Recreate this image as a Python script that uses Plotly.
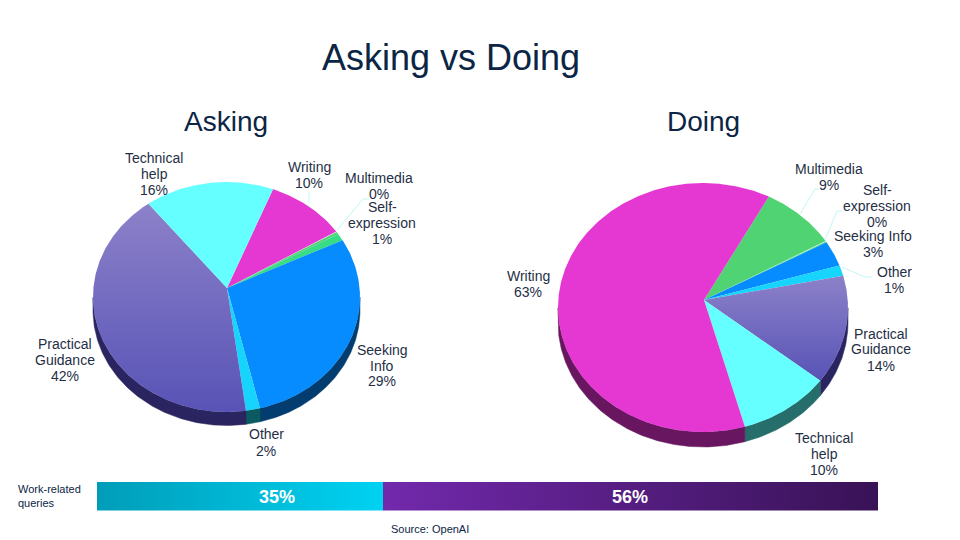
import numpy as np
import plotly.graph_objects as go

# ---- data (slice sizes estimated; labels show the rounded figure) ----
asking_names = ["Writing", "Multimedia", "Self-expression", "Seeking Info", "Other", "Practical Guidance", "Technical help"]
asking_values = [9.7, 0.4, 1, 29.2, 1.7, 42.4, 15.6]
doing_names = ["Multimedia", "Self-expression", "Seeking Info", "Other", "Practical Guidance", "Technical help", "Writing"]
doing_values = [8.6, 0.2, 3.3, 1.4, 14.2, 10.4, 62.6]
work_labels = ["35%", "56%"]

# ---- styles ----
NAVY = "#0B2545"
TEXT = "#1F2F46"
TOP = {"Writing": "#E537D2", "Multimedia": "#50D372", "Self-expression": "#38DC84", "Seeking Info": "#068CFF",
       "Other": "#16D4FB", "Practical Guidance": ("#8C81C9", "#5853B6"), "Technical help": "#66FFFF"}
WALL = {"Writing": "#681660", "Multimedia": "#245F34", "Self-expression": "#1A6038", "Seeking Info": "#033D70",
        "Other": "#0A5A60", "Practical Guidance": "#2A2560", "Technical help": "#266E6C"}

fig = go.Figure()


def pie_3d(names, values, apex, centre, rx, ry, depth, start):
    total = sum(values)
    edges = start - np.cumsum([0] + list(values)) * 360 / total
    walls, tops = [], []
    for name, a0, a1 in zip(names, edges[:-1], edges[1:]):
        t = np.radians(np.linspace(a0, a1, max(int(a0 - a1) * 2, 6)))
        x = centre[0] + rx * np.cos(t)
        y = centre[1] - ry * np.sin(t)
        front = np.sin(t) <= 0
        if front.any():
            wx, wy = x[front], y[front]
            walls.append(go.Scatter(x=np.r_[wx, wx[::-1], wx[0]], y=np.r_[wy, wy[::-1] + depth, wy[0]],
                                    mode="lines", fill="toself", fillcolor=WALL[name], line=dict(width=0.5, color=WALL[name]),
                                    hoverinfo="skip", showlegend=False))
        style = dict(mode="lines", fill="toself", line=dict(width=0), hoverinfo="text", showlegend=False, name=name,
                     text=name)
        col = TOP[name]
        if isinstance(col, tuple):
            # the picture shades this slice from its top edge to its bottom edge
            style["fillgradient"] = dict(type="vertical", colorscale=[[0, col[1]], [1, col[0]]])
        else:
            style["fillcolor"] = col
        tops.append(go.Scatter(x=np.r_[apex[0], x, apex[0]], y=np.r_[apex[1], y, apex[1]], **style))
    for tr in walls + tops:
        fig.add_trace(tr)


pie_3d(asking_names, asking_values, (227, 288), (226.5, 297), 133.5, 115, 13.5, 69.6)
pie_3d(doing_names, doing_values, (704, 300), (703, 307.5), 145, 124.5, 15, 63)

# work-related strip
BAR_X = [97, 383, 878]
BAR_Y = (482, 510.5)
BAR_COL = [("#009DB8", "#00D2F2"), ("#7229AC", "#381256")]
for i in range(2):
    x0, x1 = BAR_X[i], BAR_X[i + 1]
    fig.add_trace(go.Scatter(x=[x0, x1, x1, x0, x0], y=[BAR_Y[0], BAR_Y[0], BAR_Y[1], BAR_Y[1], BAR_Y[0]],
                             mode="lines", fill="toself", line=dict(width=0), hoverinfo="skip", showlegend=False,
                             fillgradient=dict(type="horizontal",
                                               colorscale=[[0, BAR_COL[i][0]], [1, BAR_COL[i][1]]])))

# leader lines
leaders = [
    [(309, 192), (309, 203)],
    [(337, 230), (363, 199), (369, 199)],
    [(800, 214), (815, 189), (819, 189)],
    [(825, 240), (837, 211), (842, 211)],
    [(842, 267), (865, 277), (872, 277)],
]
for pts in leaders:
    fig.add_trace(go.Scatter(x=[p[0] for p in pts], y=[p[1] for p in pts], mode="lines", hoverinfo="skip",
                             line=dict(color="#B4F3F3", width=0.8), showlegend=False))


def text(x, y, s, size=14, color=TEXT, **kw):
    fig.add_annotation(x=x, y=y, text=s, showarrow=False, xanchor=kw.pop("xanchor", "center"), yanchor="middle",
                       font=dict(family="Liberation Sans, Arial, sans-serif", size=size, color=color), **kw)


text(451, 57, "Asking vs Doing", 36, NAVY)
text(226, 121, "Asking", 28, NAVY)
text(703, 121, "Doing", 28, NAVY)

labels = [
    (154, (158, 174, 190), ("Technical", "help"), asking_values[6]),
    (309, (167, 183), ("Writing",), asking_values[0]),
    (379, (178, 194), ("Multimedia",), asking_values[1]),
    (382, (207, 223, 239), ("Self-", "expression"), asking_values[2]),
    (382, (350, 366, 381), ("Seeking", "Info"), asking_values[3]),
    (266, (434, 451), ("Other",), asking_values[4]),
    (65, (344, 360, 376), ("Practical", "Guidance"), asking_values[5]),
    (829, (169, 185), ("Multimedia",), doing_values[0]),
    (877, (190, 206, 222), ("Self-", "expression"), doing_values[1]),
    (873, (236, 252), ("Seeking Info",), doing_values[2]),
    (894, (272, 288), ("Other",), doing_values[3]),
    (881, (334, 349, 366), ("Practical", "Guidance"), doing_values[4]),
    (824, (438, 454, 470), ("Technical", "help"), doing_values[5]),
    (528, (276, 292), ("Writing",), doing_values[6]),
]
for x, ys, lines, v in labels:
    for y, s in zip(ys, list(lines) + [f"{round(v)}%"]):
        text(x, y, s)

text(277, 497, "<b>%s</b>" % work_labels[0], 18, "white")
text(630, 497, "<b>%s</b>" % work_labels[1], 18, "white")
text(15.5, 489, "Work-related", 11, NAVY, xanchor="left")
text(15.5, 503, "queries", 11, NAVY, xanchor="left")
text(430, 529, "Source: OpenAI", 11, NAVY)

fig.update_layout(width=960, height=540, margin=dict(l=0, r=0, t=0, b=0), paper_bgcolor="white", plot_bgcolor="white",
                  showlegend=False,
                  xaxis=dict(range=[0, 960], visible=False, fixedrange=True),
                  yaxis=dict(range=[540, 0], visible=False, fixedrange=True))
fig.write_html("out.html", config={"displayModeBar": False},
               post_script="document.body.style.margin='0';document.body.style.overflow='hidden';")
